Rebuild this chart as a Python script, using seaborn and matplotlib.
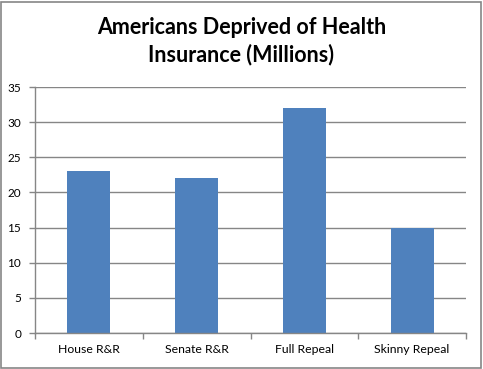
import matplotlib
matplotlib.use("Agg")
import matplotlib.pyplot as plt
import seaborn as sns
import pandas as pd
import numpy as np

categories = ["House R&R", "Senate R&R", "Full Repeal", "Skinny Repeal"]
values = [23, 22, 32, 15]
yticks = [0, 5, 10, 15, 20, 25, 30, 35]
title = "Americans Deprived of Health\nInsurance (Millions)"

sns.set_theme(style="white")
plt.rcParams['font.family'] = ['Lato', 'DejaVu Sans']

fig = plt.figure(figsize=(4.83, 3.69), dpi=100)
ax = fig.add_axes([35/483, 36/369, 431/483, 246/369])

df = pd.DataFrame({"cat": categories, "val": values})
sns.barplot(data=df, x="cat", y="val", color="#4F81BD", saturation=1, width=0.4,
            linewidth=0, ax=ax, zorder=3)

ax.set_ylim(0, 35)
ax.set_xlim(-0.5, len(categories) - 0.5)
ax.set_yticks(yticks)
ax.set_yticklabels([str(t) for t in yticks], fontsize=8.5, color="black")
ax.set_xlabel("")
ax.set_ylabel("")
ax.tick_params(axis="x", length=0, labelsize=8.8, pad=8, colors="black")
ax.set_xticks(np.arange(len(categories) + 1) - 0.5, minor=True)
ax.tick_params(axis="x", which="minor", length=4, color="#868686", width=1, direction="out", bottom=True)
ax.tick_params(axis="y", length=4, color="#868686", width=1, direction="out", left=True, pad=6)
ax.yaxis.grid(True, color="#868686", linewidth=1, zorder=0)
ax.set_axisbelow(True)
for s in ["top", "right"]:
    ax.spines[s].set_visible(False)
for s in ["left", "bottom"]:
    ax.spines[s].set_color("#868686")
    ax.spines[s].set_linewidth(1)
    ax.spines[s].set_zorder(4)

fig.text(0.5, 0.889, title, ha="center", va="center", fontsize=15.5, fontweight="bold",
         linespacing=1.35, color="black")

border = plt.Rectangle((0.002, 0.003), 0.994, 0.992, transform=fig.transFigure,
                       fill=False, edgecolor="#868686", linewidth=1.2)
fig.patches.append(border)

fig.savefig("out.png", dpi=100)
